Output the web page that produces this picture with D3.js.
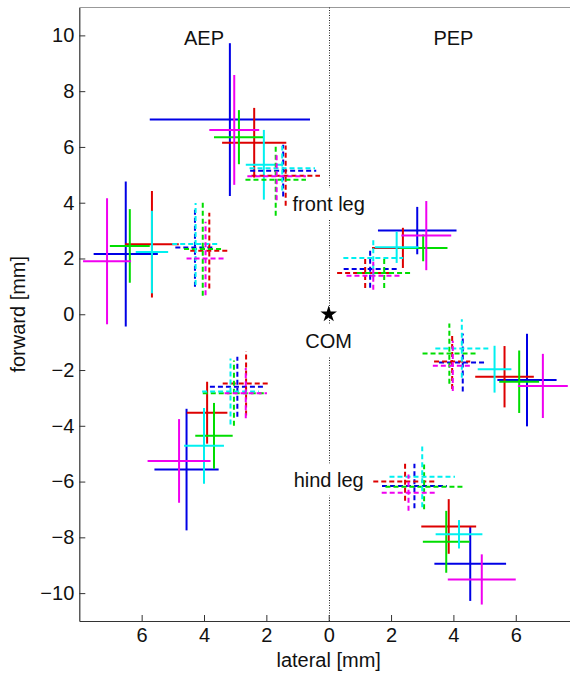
<!DOCTYPE html>
<html>
<head>
<meta charset="utf-8">
<script src="https://cdn.jsdelivr.net/npm/d3@7"></script>
<style>
  body { margin: 0; background: #fff; }
  svg { display: block; font-family: "Liberation Sans", Arial, sans-serif; }
</style>
</head>
<body>
<svg width="570" height="673"></svg>
<script>
// colour order used in every group: blue, red, green, cyan, magenta
const colorNames = ['blue', 'red', 'green', 'cyan', 'magenta']
const colorHex = ['#0000e6', '#dd0000', '#00dd00', '#00f0f0', '#f000f0']

const xTicks = [-6, -4, -2, 0, 2, 4, 6]
const yTicks = [-10, -8, -6, -4, -2, 0, 2, 4, 6, 8, 10]

// [lateral, forward, sd lateral, sd forward]  (lateral as distance from COM)
// AEP groups are drawn on the left side
const frontAEP = [[3.17, 6.98, 2.57, 2.74], [2.39, 6.15, 1.03, 1.25], [2.88, 6.35, 0.80, 0.97], [2.08, 5.36, 0.58, 1.25], [3.03, 6.61, 0.80, 1.97]]
const frontAEPdash = [[1.46, 5.15, 1.06, 0.93], [1.38, 4.97, 1.10, 1.08], [1.70, 4.82, 0.97, 1.29], [1.49, 5.24, 1.05, 0.80], [1.67, 4.95, 0.94, 0.86]]
const midAEP = [[6.51, 2.16, 1.03, 2.60], [5.67, 2.51, 0.86, 1.91], [6.38, 2.45, 0.64, 1.32], [5.67, 2.23, 0.52, 1.48], [7.11, 1.90, 0.77, 2.26]]
const midAEPdash = [[4.29, 2.39, 0.63, 1.40], [3.83, 2.28, 0.61, 1.36], [4.04, 2.34, 0.60, 1.68], [4.27, 2.52, 0.75, 1.47], [3.95, 2.00, 0.61, 1.32]]
const hindAEP = [[4.56, -5.57, 1.03, 2.18], [3.90, -3.53, 0.65, 1.11], [3.68, -4.36, 0.60, 1.18], [4.00, -4.72, 0.64, 1.36], [4.80, -5.26, 1.01, 1.50]]
const hindAEPdash = [[2.93, -2.60, 0.88, 1.08], [2.65, -2.48, 0.75, 1.15], [3.04, -2.83, 1.00, 1.17], [3.15, -2.77, 0.91, 1.18], [2.66, -2.83, 0.68, 0.90]]

const frontPEP = [[2.84, 3.00, 1.26, 0.85], [2.38, 2.38, 0.99, 0.72], [3.03, 2.38, 0.78, 0.48], [2.18, 2.40, 0.70, 0.56], [3.13, 2.82, 0.80, 1.24]]
const frontPEPdash = [[1.33, 1.62, 0.85, 0.67], [1.17, 1.48, 0.90, 0.54], [1.78, 1.48, 0.87, 0.54], [1.43, 2.02, 0.96, 0.69], [1.43, 1.38, 0.86, 0.50]]
const midPEP = [[6.36, -2.36, 0.95, 1.66], [5.64, -2.24, 0.94, 1.10], [6.11, -2.42, 0.64, 1.12], [5.32, -1.97, 0.54, 0.84], [6.87, -2.57, 0.80, 1.15]]
const midPEPdash = [[4.30, -1.73, 0.76, 1.04], [3.96, -1.69, 0.58, 0.99], [3.87, -1.41, 0.86, 1.08], [4.27, -1.23, 0.85, 1.05], [3.98, -1.85, 0.64, 0.90]]
const hindPEP = [[4.54, -8.95, 1.15, 1.33], [3.85, -7.61, 0.88, 0.98], [3.77, -8.16, 0.75, 1.11], [4.18, -7.89, 0.75, 0.51], [4.91, -9.51, 1.09, 0.90]]
const hindPEPdash = [[2.75, -6.16, 1.04, 0.80], [2.45, -6.00, 1.02, 0.69], [3.06, -6.19, 1.24, 0.80], [3.00, -5.83, 1.05, 1.09], [2.56, -6.40, 0.86, 0.65]]

const groups = [
    { side: -1, dashed: false, data: frontAEP },
    { side: -1, dashed: false, data: midAEP },
    { side: -1, dashed: false, data: hindAEP },
    { side: 1, dashed: false, data: frontPEP },
    { side: 1, dashed: false, data: midPEP },
    { side: 1, dashed: false, data: hindPEP },
    { side: -1, dashed: true, data: frontAEPdash },
    { side: -1, dashed: true, data: midAEPdash },
    { side: -1, dashed: true, data: hindAEPdash },
    { side: 1, dashed: true, data: frontPEPdash },
    { side: 1, dashed: true, data: midPEPdash },
    { side: 1, dashed: true, data: hindPEPdash }
]

const svg = d3.select('svg')

const x = d3.scaleLinear().domain([-8, 8]).range([79.3, 578.1])
const y = d3.scaleLinear().domain([-11, 11]).range([621, 7.5])

// box
svg.append('line')
    .attr('x1', x(-8)).attr('x2', x(8))
    .attr('y1', y(11)).attr('y2', y(11))
    .attr('stroke', '#999')
    .attr('stroke-width', 1)

// center line (dotted), snapped to the pixel grid
const x0 = Math.round(x(0)) + 0.5
svg.append('line')
    .attr('x1', x0).attr('x2', x0)
    .attr('y1', y(11)).attr('y2', y(-11))
    .attr('stroke', '#222')
    .attr('stroke-width', 1)
    .attr('stroke-dasharray', '1,1.5')

// crosses
const plot = svg.append('g')

groups.forEach(gr => {
    gr.data.forEach((d, i) => {
        const cx = gr.side * d[0]
        const g = plot.append('g')
            .attr('stroke', colorHex[i])
            .attr('stroke-width', 2)
            .attr('stroke-dasharray', gr.dashed ? '5,3' : null)
            .attr('class', colorNames[i])
        g.append('line')
            .attr('x1', x(cx - d[2])).attr('x2', x(cx + d[2]))
            .attr('y1', y(d[1])).attr('y2', y(d[1]))
        g.append('line')
            .attr('x1', x(cx)).attr('x2', x(cx))
            .attr('y1', y(d[1] - d[3])).attr('y2', y(d[1] + d[3]))
    })
})

// axes
const xAxis = d3.axisBottom(x)
    .tickValues(xTicks)
    .tickFormat(d => Math.abs(d))
    .tickSizeInner(-6)
    .tickSizeOuter(0)
    .tickPadding(7)

const yAxis = d3.axisLeft(y)
    .tickValues(yTicks)
    .tickSizeInner(-6)
    .tickSizeOuter(0)
    .tickPadding(5)

const gx = svg.append('g')
    .attr('transform', `translate(0,${y(-11)})`)
    .call(xAxis)
const gy = svg.append('g')
    .attr('transform', `translate(${x(-8)},0)`)
    .call(yAxis)

;[gx, gy].forEach(a => {
    a.select('.domain').attr('stroke', '#333').attr('stroke-width', 1.2)
    a.selectAll('.tick line').attr('stroke', '#333')
    a.selectAll('text')
        .attr('font-size', 20)
        .attr('font-family', '"Liberation Sans", Arial, sans-serif')
        .attr('fill', '#111')
})

// axis titles
svg.append('text')
    .attr('x', x(0))
    .attr('y', 667)
    .attr('text-anchor', 'middle')
    .attr('font-size', 20)
    .attr('fill', '#111')
    .text('lateral [mm]')

svg.append('text')
    .attr('transform', `translate(25,${y(0)}) rotate(-90)`)
    .attr('text-anchor', 'middle')
    .attr('font-size', 20)
    .attr('fill', '#111')
    .text('forward [mm]')

// labels
const topLabels = [['AEP', -4], ['PEP', 4]]
topLabels.forEach(t => {
    svg.append('text')
        .attr('x', x(t[1]))
        .attr('y', y(9.9))
        .attr('dy', '0.35em')
        .attr('text-anchor', 'middle')
        .attr('font-size', 20)
        .attr('fill', '#111')
        .text(t[0])
})

const midLabels = [['front leg', 3.97], ['COM', -0.95], ['hind leg', -5.93]]
midLabels.forEach(t => {
    const bg = svg.append('rect').attr('fill', '#fff')
    const txt = svg.append('text')
        .attr('x', x(0))
        .attr('y', y(t[1]))
        .attr('dy', '0.35em')
        .attr('text-anchor', 'middle')
        .attr('font-size', 20)
        .attr('fill', '#111')
        .text(t[0])
    const bb = txt.node().getBBox()
    bg.attr('x', bb.x - 2).attr('y', bb.y - 5)
        .attr('width', bb.width + 4).attr('height', bb.height + 10)
})

// centre of mass
svg.append('path')
    .attr('d', d3.symbol().type(d3.symbolStar).size(85)())
    .attr('transform', `translate(${x(0)},${y(0)})`)
    .attr('fill', '#000')
</script>
</body>
</html>
